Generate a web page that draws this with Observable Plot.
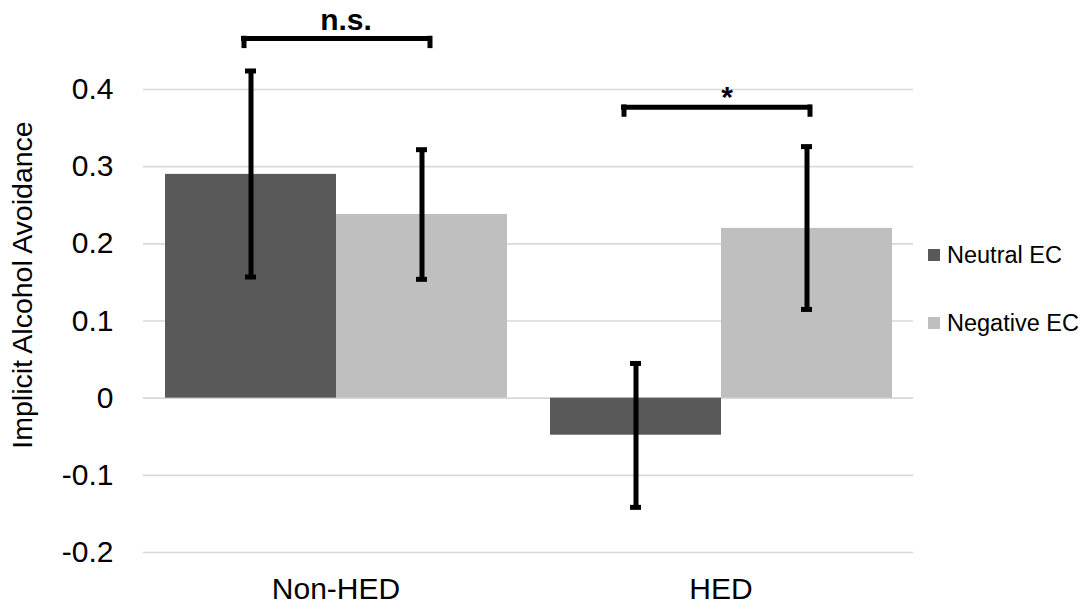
<!DOCTYPE html>
<html>
<head>
<meta charset="utf-8">
<script src="https://cdn.jsdelivr.net/npm/d3@7"></script>
<script src="https://cdn.jsdelivr.net/npm/@observablehq/plot@0.6"></script>
<style>
  html, body { margin: 0; padding: 0; background: #fff; }
  #wrap { position: relative; width: 1086px; height: 611px; font-family: 'Liberation Sans', Arial, sans-serif; color: #000; }
  #wrap svg { position: absolute; left: 0; top: 0; }
  #ytitle { position: absolute; left: 23px; top: 285px; transform: translate(-50%, -50%) rotate(-90deg);
            white-space: nowrap; font-size: 28.5px; line-height: 1.12; }
  #legend { position: absolute; left: 928px; top: 241px; font-size: 23.5px; }
  .item { display: flex; align-items: center; height: 28px; margin-bottom: 40px; }
  .sw { width: 12px; height: 12px; margin-right: 7px; }
</style>
</head>
<body>
<div id="wrap"><div id="ytitle"></div><div id="legend"></div></div>
<script>
const groups = ["Non-HED", "HED"];
const series = ["Neutral EC", "Negative EC"];
const colors = ["#595959", "#bfbfbf"];
const neutralMeans = [0.290, -0.048];
const negativeMeans = [0.238, 0.220];
const neutralLow = [0.157, -0.1415];
const neutralHigh = [0.424, 0.045];
const negativeLow = [0.154, 0.115];
const negativeHigh = [0.322, 0.326];
const bracketTops = [0.466, 0.377];
const bracketLabels = ["n.s.", "*"];
const yTicks = [-0.2, -0.1, 0, 0.1, 0.2, 0.3, 0.4];
const yTitle = "Implicit Alcohol Avoidance";

const rows = groups.flatMap((g, i) => [
  {group: g, series: series[0], mean: neutralMeans[i], low: neutralLow[i], high: neutralHigh[i]},
  {group: g, series: series[1], mean: negativeMeans[i], low: negativeLow[i], high: negativeHigh[i]}
]);
const brackets = groups.map((g, i) => ({group: g, top: bracketTops[i], label: bracketLabels[i]}));

// per-bracket drawing offsets (styling, in pixels)
const bracketStyle = [
  {insetLeft: 77, insetRight: 76, dxL: -7, dxR: 8, tdx: 10, tdy: -9},
  {insetLeft: 72, insetRight: 81, dxL: -12, dxR: 3, tdx: 6, tdy: 0}
];
const bracketMarks = brackets.flatMap((b, i) => {
  const s = bracketStyle[i];
  const data = [b];
  const common = {fx: "group", stroke: "#000", strokeWidth: 5};
  return [
    Plot.ruleY(data, {...common, y: "top", insetLeft: s.insetLeft, insetRight: s.insetRight}),
    Plot.ruleX(data, {...common, x: () => series[0], y1: d => d.top + 0.003, y2: d => d.top - 0.013, dx: s.dxL}),
    Plot.ruleX(data, {...common, x: () => series[1], y1: d => d.top + 0.003, y2: d => d.top - 0.013, dx: s.dxR}),
    Plot.text(data, {fx: "group", y: "top", text: "label", lineAnchor: "bottom", dx: s.tdx, dy: s.tdy,
                     fontWeight: "bold", fontSize: 30, fill: "#000"})
  ];
});

const chart = Plot.plot({
  width: 1086,
  height: 611,
  marginLeft: 143,
  marginRight: 173,
  marginTop: 89,
  marginBottom: 59,
  style: {fontFamily: "'Liberation Sans', Arial, sans-serif", fontSize: "30px", color: "#000", background: "#fff", overflow: "visible"},
  fx: {domain: groups, paddingInner: 0.109, paddingOuter: 0.0545, axis: "bottom", label: null, tickSize: 0, tickPadding: 25},
  x: {domain: series, padding: 0, axis: null},
  y: {domain: [-0.2, 0.4], ticks: yTicks, tickFormat: d => String(+d.toFixed(1)), tickSize: 0, tickPadding: 51, label: null},
  color: {domain: series, range: colors},
  marks: [
    Plot.ruleY(yTicks, {stroke: "#d9d9d9", strokeWidth: 1.6, insetLeft: -21, insetRight: -21}),
    Plot.barY(rows, {fx: "group", x: "series", y: "mean", fill: "series"}),
    Plot.ruleX(rows, {fx: "group", x: "series", y1: "low", y2: "high", stroke: "#000", strokeWidth: 5}),
    Plot.tickY(rows, {fx: "group", x: "series", y: "low", stroke: "#000", strokeWidth: 5, insetLeft: 80, insetRight: 80}),
    Plot.tickY(rows, {fx: "group", x: "series", y: "high", stroke: "#000", strokeWidth: 5, insetLeft: 80, insetRight: 80}),
    ...bracketMarks
  ]
});
document.getElementById("wrap").prepend(chart);
document.getElementById("ytitle").textContent = yTitle;

const legend = document.getElementById("legend");
series.forEach((s, i) => {
  const item = document.createElement("div");
  item.className = "item";
  const sw = document.createElement("div");
  sw.className = "sw";
  sw.style.background = colors[i];
  const label = document.createElement("span");
  label.textContent = s;
  item.append(sw, label);
  legend.append(item);
});
</script>
</body>
</html>
